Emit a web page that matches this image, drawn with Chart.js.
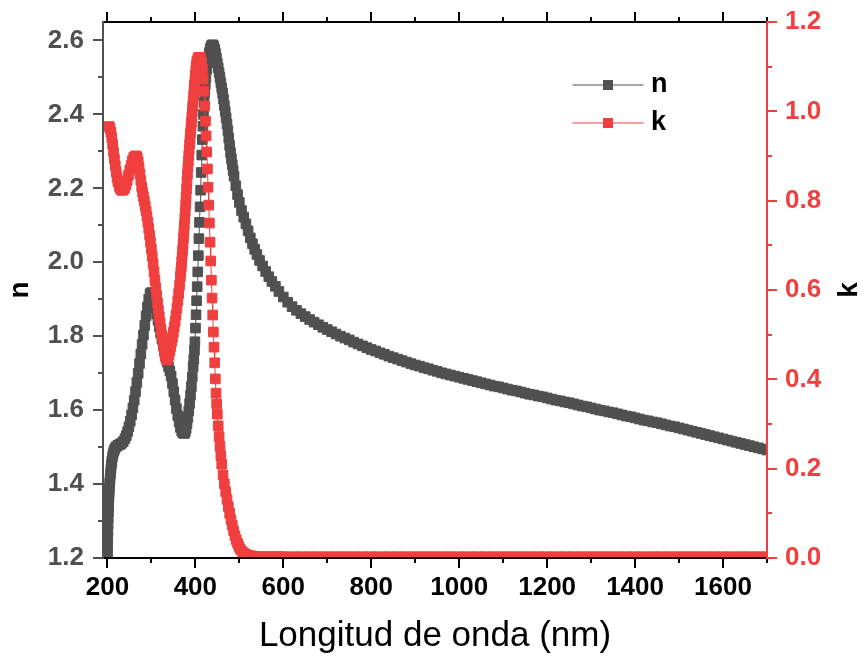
<!DOCTYPE html>
<html>
<head>
<meta charset="utf-8">
<script src="https://cdn.jsdelivr.net/npm/chart.js@4.4.1/dist/chart.umd.min.js"></script>
<style>
  html, body { margin: 0; padding: 0; background: #fff; }
  canvas { display: block; }
</style>
</head>
<body>
<canvas id="chart" width="863" height="659"></canvas>
<script>
// Wavelength (nm) -> refractive index n
const nPoints = [
  [200, 1.195], [200.3, 1.215], [200.6, 1.235], [200.9, 1.255], [201.2, 1.274], [201.5, 1.292],
  [201.8, 1.308], [202.2, 1.324], [202.6, 1.339], [203, 1.352], [203.5, 1.366], [204, 1.378],
  [204.6, 1.390], [205.3, 1.402], [206, 1.414], [207, 1.428], [208, 1.441], [209, 1.452],
  [210, 1.462], [211.5, 1.473], [213, 1.482], [215, 1.490], [217, 1.496],
  [220, 1.501], [224, 1.505], [228, 1.507], [232, 1.510], [236, 1.515], [240, 1.523],
  [243, 1.531], [246, 1.542], [249, 1.555], [252, 1.570], [255, 1.587], [258, 1.606],
  [261, 1.627], [264, 1.650], [267, 1.675], [270, 1.700], [273, 1.726], [276, 1.752],
  [279, 1.778], [282, 1.803], [285, 1.829], [288, 1.855], [291, 1.879], [294, 1.900],
  [297, 1.915], [300, 1.918], [303, 1.910], [306, 1.895], [309, 1.877], [312, 1.860],
  [315, 1.843], [318, 1.826], [321, 1.809], [324, 1.792], [327, 1.776], [330, 1.760],
  [333, 1.745], [336, 1.730], [339, 1.718], [342, 1.706], [345, 1.692], [348, 1.672],
  [351, 1.650], [354, 1.627], [357, 1.604], [360, 1.585], [363, 1.568], [366, 1.553],
  [369, 1.543], [372, 1.538], [375, 1.537], [377, 1.541], [379, 1.550], [381, 1.563],
  [383, 1.580], [385, 1.598], [387, 1.618], [389, 1.640], [391, 1.664], [393, 1.690],
  [395, 1.718], [396.5, 1.738], [398, 1.762], [399, 1.785],
  [400.3, 1.822], [401.6, 1.858], [402.9, 1.896], [404.2, 1.934], [405.5, 1.974], [406.8, 2.018],
  [408.1, 2.064], [409.4, 2.108], [410.7, 2.150], [412, 2.195], [413.3, 2.243], [414.6, 2.290],
  [415.9, 2.332], [417.2, 2.368], [418.5, 2.400], [419.8, 2.432],
  [421.2, 2.458], [422.6, 2.480], [424, 2.500], [426, 2.522], [428, 2.540], [430, 2.556],
  [432, 2.568], [434, 2.578], [436, 2.585], [438, 2.588], [440, 2.588], [442, 2.584],
  [444, 2.576], [446, 2.565], [448, 2.552], [450, 2.539], [452, 2.526], [454, 2.513],
  [456, 2.500], [458, 2.486], [460, 2.472], [462, 2.458], [464, 2.441], [466, 2.424],
  [468, 2.408], [470, 2.391], [472, 2.374], [474, 2.356], [476, 2.336], [478, 2.316],
  [480, 2.297], [482, 2.280], [484, 2.264], [486, 2.248], [488, 2.233], [492, 2.207],
  [496, 2.183], [500, 2.162], [505, 2.140], [510, 2.122], [515, 2.104], [520, 2.085],
  [525, 2.066], [530, 2.050], [535, 2.035], [540, 2.021], [546, 2.005], [553, 1.990],
  [560, 1.975], [567, 1.961], [574, 1.948], [582, 1.935], [590, 1.921], [600, 1.906],
  [610, 1.892], [620, 1.880], [630, 1.870], [640, 1.861], [650, 1.853], [660, 1.845],
  [670, 1.838], [680, 1.831], [690, 1.824], [700, 1.818], [710, 1.812], [720, 1.806],
  [730, 1.800], [740, 1.795], [750, 1.790], [760, 1.784], [770, 1.779], [780, 1.774],
  [790, 1.769], [800, 1.764], [810, 1.760], [820, 1.755], [830, 1.751], [840, 1.746],
  [850, 1.742], [860, 1.738], [870, 1.734], [880, 1.730], [890, 1.726], [900, 1.722],
  [910, 1.719], [920, 1.715], [930, 1.712], [940, 1.708], [950, 1.705], [960, 1.701],
  [970, 1.698], [980, 1.695], [990, 1.692], [1000, 1.689], [1010, 1.686], [1020, 1.683],
  [1030, 1.680], [1040, 1.677], [1050, 1.674], [1060, 1.671], [1070, 1.668], [1080, 1.665],
  [1090, 1.663], [1100, 1.660], [1110, 1.657], [1120, 1.654], [1130, 1.652], [1140, 1.649],
  [1150, 1.646], [1160, 1.643], [1170, 1.641], [1180, 1.638], [1190, 1.636], [1200, 1.633],
  [1210, 1.630], [1220, 1.627], [1230, 1.625], [1240, 1.622], [1250, 1.620], [1260, 1.617],
  [1270, 1.614], [1280, 1.611], [1290, 1.609], [1300, 1.606], [1310, 1.603], [1320, 1.600],
  [1330, 1.598], [1340, 1.595], [1350, 1.593], [1360, 1.590], [1370, 1.587], [1380, 1.584],
  [1390, 1.582], [1400, 1.579], [1410, 1.576], [1420, 1.573], [1430, 1.571], [1440, 1.568],
  [1450, 1.566], [1460, 1.563], [1470, 1.560], [1480, 1.557], [1490, 1.555], [1500, 1.552],
  [1510, 1.549], [1520, 1.546], [1530, 1.543], [1540, 1.540], [1550, 1.537], [1560, 1.534],
  [1570, 1.531], [1580, 1.528], [1590, 1.525], [1600, 1.522], [1610, 1.519], [1620, 1.516],
  [1630, 1.513], [1640, 1.510], [1650, 1.507], [1660, 1.504], [1670, 1.501], [1680, 1.498],
  [1690, 1.495], [1700, 1.492]
];

// Wavelength (nm) -> extinction coefficient k
const kPoints = [
  [204, 0.966], [206, 0.962], [208, 0.953], [210, 0.941], [212, 0.926], [214, 0.909],
  [216, 0.893], [218, 0.878], [220, 0.864], [222, 0.852], [224, 0.842], [227, 0.832],
  [230, 0.826], [233, 0.823], [236, 0.824], [239, 0.828], [242, 0.835], [245, 0.845],
  [248, 0.857], [251, 0.869], [254, 0.880], [257, 0.890], [260, 0.897], [263, 0.900],
  [266, 0.900], [268, 0.896], [270, 0.887], [272, 0.875], [274, 0.860], [276, 0.845],
  [278, 0.831], [280, 0.819], [282, 0.809], [284, 0.799], [286, 0.788], [288, 0.777],
  [290, 0.765], [292, 0.752], [294, 0.738], [296, 0.723], [298, 0.707], [300, 0.692],
  [302, 0.676], [304, 0.659], [306, 0.641], [308, 0.623], [310, 0.605], [312, 0.588],
  [314, 0.571], [316, 0.555], [318, 0.540], [320, 0.526], [322, 0.512], [324, 0.499],
  [326, 0.486], [328, 0.473], [330, 0.461], [332, 0.451], [334, 0.445], [336, 0.443],
  [338, 0.447], [340, 0.455], [342, 0.464], [344, 0.474], [346, 0.484], [348, 0.494],
  [350, 0.505], [352, 0.517], [354, 0.530], [356, 0.544], [358, 0.559], [360, 0.575],
  [362, 0.592], [364, 0.610], [366, 0.630], [367, 0.641], [368, 0.652], [369, 0.664],
  [370, 0.676], [371, 0.689], [372, 0.702], [373, 0.716], [374, 0.730], [375, 0.745],
  [376, 0.760], [377, 0.776], [378, 0.792], [379, 0.809], [380, 0.826], [381, 0.843],
  [382, 0.859], [383, 0.874], [384, 0.888], [385, 0.901], [386, 0.914], [387, 0.927],
  [388, 0.939], [389, 0.951], [390, 0.963], [391, 0.975], [392, 0.987], [393, 0.999],
  [394, 1.011], [395, 1.023], [396, 1.035], [397, 1.047], [398, 1.059], [399, 1.070],
  [400, 1.081], [401, 1.091], [402, 1.100], [403, 1.107], [404, 1.113], [406, 1.119],
  [408, 1.121], [410, 1.121], [412, 1.119], [414, 1.110], [416, 1.094], [418, 1.072],
  [419.8, 1.045], [421.5, 1.012],
  [423, 0.978], [424.5, 0.945], [426, 0.909], [427.5, 0.871], [429, 0.830], [430.5, 0.790],
  [432, 0.750], [433.5, 0.707], [435, 0.665], [436.5, 0.622], [438, 0.582], [439.5, 0.544],
  [441, 0.506], [442.5, 0.472], [444, 0.437], [445.5, 0.401], [447, 0.369], [448.5, 0.345],
  [450, 0.322], [452, 0.296], [454, 0.272], [456, 0.250], [458, 0.229], [460, 0.210],
  [463, 0.186], [466, 0.166], [469, 0.148], [472, 0.131], [475, 0.115], [478, 0.100],
  [481, 0.086], [484, 0.073], [487, 0.061], [490, 0.050], [493, 0.041], [496, 0.033],
  [499, 0.026], [502, 0.020], [506, 0.015], [510, 0.011], [515, 0.008], [520, 0.006],
  [526, 0.005], [533, 0.004], [540, 0.003], [550, 0.003], [560, 0.003], [570, 0.003],
  [580, 0.003], [590, 0.003], [600, 0.003], [620, 0.003], [640, 0.003], [660, 0.003],
  [680, 0.003], [700, 0.003], [720, 0.003], [740, 0.003], [760, 0.003], [780, 0.003],
  [800, 0.003], [820, 0.003], [840, 0.003], [860, 0.003], [880, 0.003], [900, 0.003],
  [920, 0.003], [940, 0.003], [960, 0.003], [980, 0.003], [1000, 0.003], [1020, 0.003],
  [1040, 0.003], [1060, 0.003], [1080, 0.003], [1100, 0.003], [1120, 0.003], [1140, 0.003],
  [1160, 0.003], [1180, 0.003], [1200, 0.003], [1220, 0.003], [1240, 0.003], [1260, 0.003],
  [1280, 0.003], [1300, 0.003], [1320, 0.003], [1340, 0.003], [1360, 0.003], [1380, 0.003],
  [1400, 0.003], [1420, 0.003], [1440, 0.003], [1460, 0.003], [1480, 0.003], [1500, 0.003],
  [1520, 0.003], [1540, 0.003], [1560, 0.003], [1580, 0.003], [1600, 0.003], [1620, 0.003],
  [1640, 0.003], [1660, 0.003], [1680, 0.003], [1700, 0.003]
];

const seriesNames = ['n', 'k'];
const xTicks = [200, 400, 600, 800, 1000, 1200, 1400, 1600];
const xMinor = [300, 500, 700, 900, 1100, 1300, 1500, 1700];
const nTicks = [1.2, 1.4, 1.6, 1.8, 2.0, 2.2, 2.4, 2.6];
const nMinor = [1.3, 1.5, 1.7, 1.9, 2.1, 2.3, 2.5];
const kTicks = [0.0, 0.2, 0.4, 0.6, 0.8, 1.0, 1.2];
const kMinor = [0.1, 0.3, 0.5, 0.7, 0.9, 1.1];

const N_COLOR = '#505050';
const K_COLOR = '#f03f3f';
const FONT = '"Liberation Sans", Arial, sans-serif';

// line + square symbols, Origin style; dense points merge into a band
function series(label, points, color, axis, order) {
  return {
    label,
    data: points.map(([x, y]) => ({ x, y })),
    yAxisID: axis,
    order,
    borderColor: color,
    backgroundColor: color,
    borderWidth: 1,
    pointStyle: 'rect',
    pointRadius: 6.8,
    pointBorderWidth: 1,
    pointBackgroundColor: color,
    pointBorderColor: color,
    clip: 0,
  };
}

// Origin-like frame: coloured axes, outward major + minor ticks, titles, legend
const framePlugin = {
  id: 'frame',
  afterDraw(chart) {
    const { ctx, chartArea: a, scales } = chart;
    const sx = scales.x, sn = scales.y, sk = scales.yk;
    ctx.save();
    ctx.lineWidth = 2;

    const line = (x1, y1, x2, y2, color) => {
      ctx.strokeStyle = color;
      ctx.beginPath();
      ctx.moveTo(x1, y1);
      ctx.lineTo(x2, y2);
      ctx.stroke();
    };

    // ticks
    ctx.lineCap = 'butt';
    xTicks.forEach(v => {
      const px = Math.round(sx.getPixelForValue(v));
      line(px, a.bottom, px, a.bottom + 10, '#000');
      line(px, a.top, px, a.top - 10, '#000');
    });
    xMinor.forEach(v => {
      const px = Math.round(sx.getPixelForValue(v));
      line(px, a.bottom, px, a.bottom + 5, '#000');
      line(px, a.top, px, a.top - 5, '#000');
    });
    nTicks.forEach(v => {
      const py = Math.round(sn.getPixelForValue(v));
      line(a.left, py, a.left - 10, py, N_COLOR);
    });
    nMinor.forEach(v => {
      const py = Math.round(sn.getPixelForValue(v));
      line(a.left, py, a.left - 5, py, N_COLOR);
    });
    kTicks.forEach(v => {
      const py = Math.round(sk.getPixelForValue(v));
      line(a.right, py, a.right + 10, py, K_COLOR);
    });
    kMinor.forEach(v => {
      const py = Math.round(sk.getPixelForValue(v));
      line(a.right, py, a.right + 5, py, K_COLOR);
    });

    // axis lines
    ctx.lineCap = 'square';
    line(a.left, a.top, a.right, a.top, '#000');
    line(a.left, a.bottom, a.right, a.bottom, '#000');
    line(a.left, a.top, a.left, a.bottom, N_COLOR);
    line(a.right, a.top, a.right, a.bottom, K_COLOR);

    // axis titles
    ctx.fillStyle = '#000';
    ctx.textAlign = 'center';
    ctx.textBaseline = 'middle';
    ctx.font = 'bold 28px ' + FONT;
    [[20, seriesNames[0]], [849, seriesNames[1]]].forEach(([x, t]) => {
      ctx.save();
      ctx.translate(x, (a.top + a.bottom) / 2);
      ctx.rotate(-Math.PI / 2);
      ctx.fillText(t, 0, 0);
      ctx.restore();
    });
    ctx.font = '35px ' + FONT;
    ctx.textBaseline = 'alphabetic';
    ctx.fillText('Longitud de onda (nm)', (a.left + a.right) / 2, 646);

    // legend
    chart.data.datasets.forEach((ds, i) => {
      const y = 85 + i * 38;
      ctx.lineWidth = 1;
      line(573, y, 643, y, ds.borderColor);
      ctx.fillStyle = ds.borderColor;
      ctx.fillRect(603, y - 5, 10, 10);
      ctx.fillStyle = '#000';
      ctx.font = 'bold 27px ' + FONT;
      ctx.textAlign = 'left';
      ctx.textBaseline = 'middle';
      ctx.fillText(ds.label, 651, y);
    });
    ctx.restore();
  }
};

const tickFont = { family: FONT, size: 26, weight: 'bold' };
const noPadY = w => s => { s.width = w; s.paddingTop = 0; s.paddingBottom = 0; };

new Chart(document.getElementById('chart'), {
  type: 'line',
  data: {
    datasets: [
      series(seriesNames[0], nPoints, N_COLOR, 'y', 2),
      series(seriesNames[1], kPoints, K_COLOR, 'yk', 1),
    ],
  },
  options: {
    responsive: false,
    animation: false,
    devicePixelRatio: 1,
    events: [],
    layout: { padding: { top: 22, right: 0, bottom: 0, left: 0 } },
    plugins: { legend: { display: false }, tooltip: { enabled: false } },
    scales: {
      x: {
        type: 'linear',
        position: 'bottom',
        min: 190,
        max: 1700,
        grid: { display: false, drawTicks: false },
        border: { display: false },
        afterBuildTicks: s => { s.ticks = xTicks.map(v => ({ value: v })); },
        afterFit: s => { s.height = 101; s.paddingLeft = 0; s.paddingRight = 0; },
        ticks: { color: '#000', font: tickFont, padding: 14, autoSkip: false, maxRotation: 0,
                 callback: v => String(v) },
      },
      y: {
        type: 'linear',
        position: 'left',
        min: 1.2,
        max: 2.65,
        grid: { display: false, drawTicks: false },
        border: { display: false },
        afterBuildTicks: s => { s.ticks = nTicks.map(v => ({ value: v })); },
        afterFit: noPadY(103),
        ticks: { color: N_COLOR, font: tickFont, padding: 19, callback: v => v.toFixed(1) },
      },
      yk: {
        type: 'linear',
        position: 'right',
        min: 0,
        max: 1.2,
        grid: { display: false, drawTicks: false },
        border: { display: false },
        afterBuildTicks: s => { s.ticks = kTicks.map(v => ({ value: v })); },
        afterFit: noPadY(96),
        ticks: { color: K_COLOR, font: tickFont, padding: 18, callback: v => v.toFixed(1) },
      },
    },
  },
  plugins: [framePlugin],
});
</script>
</body>
</html>
